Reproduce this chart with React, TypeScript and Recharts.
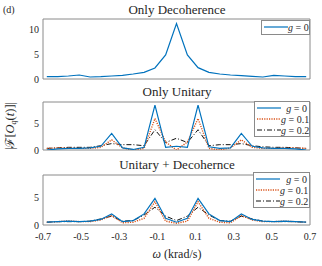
import { LineChart, Line, XAxis, YAxis, ReferenceArea, ReferenceLine } from 'recharts';

const omega = [-0.68, -0.623, -0.567, -0.51, -0.453, -0.397, -0.34, -0.283, -0.227, -0.17, -0.113, -0.057, 0, 0.057, 0.113, 0.17, 0.227, 0.283, 0.34, 0.397, 0.453, 0.51, 0.567, 0.623, 0.68];

const decoG0 = [0.47, 0.47, 0.6, 0.8, 0.4, 0.47, 0.6, 0.73, 1.0, 1.33, 2.2, 4.8, 11.1, 4.8, 2.27, 1.33, 1.0, 0.8, 0.67, 0.53, 0.4, 0.73, 0.6, 0.47, 0.47];

const unitG0 = [0.0, 0.2, 0.3, 0.3, 0.4, 0.7, 3.1, 0.4, 0.1, 0.5, 8.4, 0.5, 0.7, 0.5, 8.4, 0.6, 0.3, 0.4, 3.1, 0.7, 0.4, 0.3, 0.3, 0.2, 0.0];
const unitG01 = [0.3, 0.4, 0.4, 0.3, 0.3, 0.5, 1.9, 0.4, 0.0, 0.3, 5.9, 1.5, 0.0, 1.5, 5.9, 0.3, 0.0, 0.4, 1.9, 0.5, 0.3, 0.3, 0.4, 0.4, 0.3];
const unitG02 = [0.3, 0.4, 0.5, 0.5, 0.5, 0.8, 1.2, 1.0, 1.0, 0.8, 3.8, 1.4, 2.2, 1.4, 3.8, 0.8, 1.0, 1.0, 1.2, 0.8, 0.6, 0.5, 0.5, 0.4, 0.3];

const bothG0 = [0.5, 0.6, 0.7, 0.6, 0.7, 1.0, 2.0, 0.6, 0.8, 2.0, 4.8, 1.2, 0.5, 1.2, 4.8, 2.0, 0.8, 0.6, 2.0, 1.0, 0.7, 0.6, 0.7, 0.6, 0.5];
const bothG01 = [0.5, 0.6, 0.75, 0.6, 0.6, 0.9, 1.7, 0.4, 0.5, 1.2, 4.2, 0.7, 0.3, 0.7, 4.2, 1.2, 0.5, 0.4, 1.7, 0.9, 0.6, 0.6, 0.7, 0.6, 0.5];
const bothG02 = [0.5, 0.6, 0.6, 0.6, 0.7, 1.1, 1.6, 0.7, 0.8, 1.8, 3.2, 1.6, 0.8, 1.6, 3.2, 1.8, 0.8, 0.7, 1.6, 1.1, 0.7, 0.6, 0.6, 0.6, 0.5];

const xTicks = [-0.7, -0.5, -0.3, -0.1, 0.1, 0.3, 0.5, 0.7];
const decoTicks = [0, 5, 10];
const fracTicks = [0, 5];

const FONT = '"Liberation Serif", "Times New Roman", serif';
const BLUE = '#0072BD';
const ORANGE = '#D95319';
const BLACK = '#111111';
const BOX = '#8a8a8a';
const INK = '#262626';

const tickStyle = { fontSize: 10, fill: INK, fontFamily: FONT };

const decoData = omega.map((w, i) => ({ w, g0: decoG0[i] }));
const unitData = omega.map((w, i) => ({ w, g0: unitG0[i], g01: unitG01[i], g02: unitG02[i] }));
const bothData = omega.map((w, i) => ({ w, g0: bothG0[i], g01: bothG01[i], g02: bothG02[i] }));

const SERIES = [
  { key: 'g0', label: '0', color: BLUE, dash: undefined, width: 1.2 },
  { key: 'g01', label: '0.1', color: ORANGE, dash: '1.2 1.2', width: 1.4 },
  { key: 'g02', label: '0.2', color: BLACK, dash: '5 2 1 2', width: 1 },
];

function LegendBox({ left, top, width, rows }: { left: number; top: number; width: number; rows: typeof SERIES }) {
  return (
    <div
      style={{
        position: 'absolute',
        left,
        top,
        width,
        background: '#fff',
        border: `1px solid ${BOX}`,
        boxSizing: 'border-box',
        padding: '1px 2px',
        fontFamily: FONT,
        fontSize: 10,
        color: INK,
      }}
    >
      {rows.map((s) => (
        <div key={s.key} style={{ display: 'flex', alignItems: 'center', height: 10.8 }}>
          <svg width={24} height={6} style={{ flex: 'none' }}>
            <line x1={0} y1={3} x2={24} y2={3} stroke={s.color} strokeWidth={s.width} strokeDasharray={s.dash} />
          </svg>
          <span style={{ flex: 1, textAlign: 'right', whiteSpace: 'nowrap' }}>
            <i>g</i> = {s.label}
          </span>
        </div>
      ))}
    </div>
  );
}

function Panel({
  top,
  height,
  marginTop,
  marginBottom,
  data,
  series,
  yMax,
  yTicks,
  showX,
}: {
  top: number;
  height: number;
  marginTop: number;
  marginBottom: number;
  data: Record<string, number>[];
  series: typeof SERIES;
  yMax: number;
  yTicks: number[];
  showX: boolean;
}) {
  return (
    <div style={{ position: 'absolute', left: 0, top }}>
      <LineChart width={322} height={height} data={data} margin={{ top: marginTop, right: 12, bottom: marginBottom, left: 0 }}>
        <XAxis
          dataKey="w"
          type="number"
          domain={[-0.7, 0.7]}
          ticks={xTicks}
          hide={!showX}
          height={30}
          tick={tickStyle}
          tickLine={false}
          axisLine={false}
          interval={0}
          tickFormatter={(v) => String(v)}
          allowDataOverflow
        />
        <YAxis type="number" domain={[0, yMax]} width={43} tick={false} tickLine={false} axisLine={false} allowDataOverflow />
        <ReferenceArea x1={-0.7} x2={0.7} y1={0} y2={yMax} fillOpacity={0} stroke={BOX} strokeWidth={1} ifOverflow="visible" />
        {yTicks.map((v) => (
          <ReferenceLine
            key={v}
            y={v}
            stroke="none"
            ifOverflow="visible"
            label={{ value: String(v), position: 'left', offset: 4, fontSize: 10, fill: INK, fontFamily: FONT }}
          />
        ))}
        {series
          .slice()
          .reverse()
          .map((s) => (
            <Line
              key={s.key}
              dataKey={s.key}
              type="linear"
              stroke={s.color}
              strokeWidth={s.width}
              strokeDasharray={s.dash}
              dot={false}
              isAnimationActive={false}
            />
          ))}
      </LineChart>
    </div>
  );
}

export default function App() {
  const title = { fontFamily: FONT, fontSize: 13, fill: INK };
  return (
    <div style={{ position: 'absolute', left: 0, top: 0, width: 322, height: 266, background: '#fff', overflow: 'hidden' }}>
      <Panel top={0} height={88} marginTop={19} marginBottom={9} data={decoData} series={SERIES.slice(0, 1)} yMax={12} yTicks={decoTicks} showX={false} />
      <Panel top={90} height={69} marginTop={12} marginBottom={9} data={unitData} series={SERIES} yMax={9} yTicks={fracTicks} showX={false} />
      <Panel top={160} height={100} marginTop={15} marginBottom={5} data={bothData} series={SERIES} yMax={9} yTicks={fracTicks} showX />

      <svg width={322} height={266} style={{ position: 'absolute', left: 0, top: 0, pointerEvents: 'none' }}>
        <text x={3} y={13} style={{ fontFamily: FONT, fontSize: 10, fill: INK }}>(d)</text>
        <text x={177} y={13.5} textAnchor="middle" style={title}>Only Decoherence</text>
        <text x={177} y={96} textAnchor="middle" style={title}>Only Unitary</text>
        <text x={177} y={168.5} textAnchor="middle" style={title}>Unitary + Decohernce</text>
        <text x={177} y={258} textAnchor="middle" style={{ fontFamily: FONT, fontSize: 12, fill: INK }}>
          <tspan fontStyle="italic">ω</tspan> (krad/s)
        </text>
        <text transform="translate(14,126) rotate(-90)" textAnchor="middle" style={{ fontFamily: FONT, fontSize: 12.5, fill: INK }}>
          |ℱ[<tspan fontStyle="italic">O</tspan>
          <tspan fontSize={8} fontStyle="italic" dy={2}>q</tspan>
          <tspan dy={-2}>(</tspan>
          <tspan fontStyle="italic">t</tspan>)]|
        </text>
      </svg>

      <LegendBox left={261} top={20} width={49} rows={SERIES.slice(0, 1)} />
      <LegendBox left={254} top={101} width={56} rows={SERIES} />
      <LegendBox left={253} top={172} width={57} rows={SERIES} />
    </div>
  );
}
